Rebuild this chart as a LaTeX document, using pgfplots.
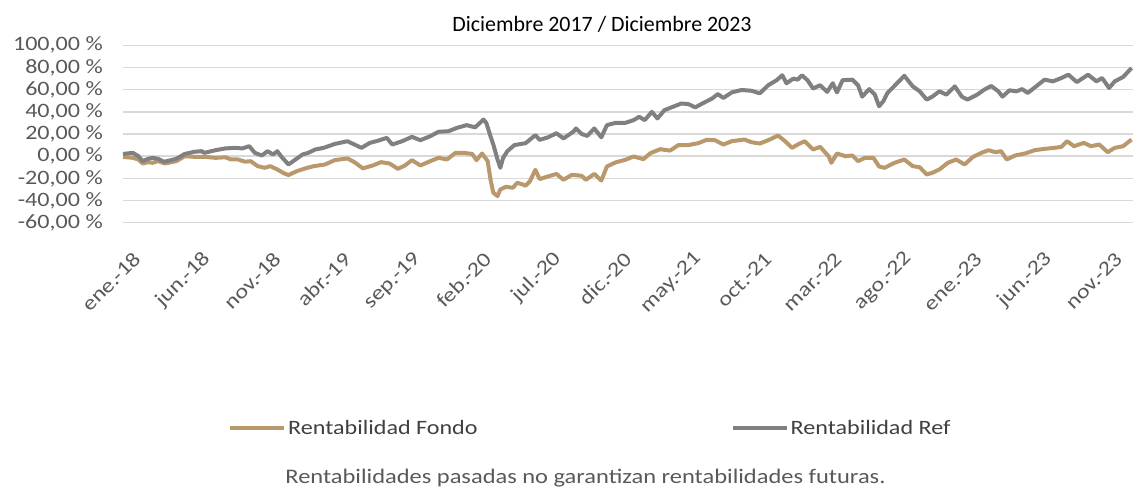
\documentclass[border=0pt]{standalone}
\usepackage{pgfplots}
\pgfplotsset{compat=1.18}
\usepackage{fontspec}
\setmainfont{Carlito}
\newfontfamily\wf[FakeStretch=1.18]{Carlito}
\definecolor{fondo}{RGB}{185,153,108}
\definecolor{refc}{RGB}{128,128,128}
\definecolor{gridc}{RGB}{217,217,217}
\definecolor{txt}{RGB}{89,89,89}
\definecolor{legtxt}{RGB}{64,64,64}
\begin{document}
\begin{tikzpicture}[x=1bp,y=1bp]
\useasboundingbox (-123,-265.3) rectangle (1010,222.7);
\begin{axis}[
  at={(0,0)}, anchor=south west,
  scale only axis, width=1010bp, height=177.4bp,
  xmin=0, xmax=72, ymin=-60, ymax=100,
  axis line style={draw=none},
  major tick length=0pt,
  ymajorgrids, grid style={gridc, line width=1.5bp},
  ytick={-60,-40,...,100},
  yticklabels={-60{,}00 \%,-40{,}00 \%,-20{,}00 \%,0{,}00 \%,20{,}00 \%,40{,}00 \%,60{,}00 \%,80{,}00 \%,100{,}00 \%},
  yticklabel style={anchor=east, inner sep=0pt, xshift=-20bp, font=\wf\fontsize{20.5}{21}\selectfont, text=txt},
  xtick={0,5,...,70},
  xticklabels={ene.-18,jun.-18,nov.-18,abr.-19,sep.-19,feb.-20,jul.-20,dic.-20,may.-21,oct.-21,mar.-22,ago.-22,ene.-23,jun.-23,nov.-23},
  xticklabel style={xshift=14bp, yshift=-33bp, rotate=45, anchor=east, inner sep=0pt, font=\wf\fontsize{20.5}{21}\selectfont, text=txt},
  legend columns=2,
  legend style={at={(axis description cs:0.104,-1.157)}, anchor=west, draw=none, fill=none, inner sep=0pt,
    font=\wf\fontsize{20.5}{21}\selectfont, text=legtxt,
    /tikz/every even column/.append style={column sep=251bp}},
  legend image code/.code={\draw[#1, line width=4bp] (0bp,0bp) -- (54bp,0bp);},
  every axis plot/.append style={line width=4bp, line join=round},
  clip=false,
]
\addplot[fondo] coordinates {
(0,-0.6) (0.7,-1.5) (1.1,-3) (1.4,-6.6) (1.8,-5.4) (2.1,-6) (2.5,-4.5) (3.0,-6.6) (3.8,-4.5) (4.4,0)
(5.1,-0.6) (5.8,-0.6) (6.6,-1.5) (7.3,-1) (7.7,-3) (8.2,-3) (8.7,-5) (9.1,-4.5) (9.6,-9) (10.1,-10.5)
(10.5,-9) (11.0,-12) (11.5,-15.6) (11.8,-17) (12.4,-13.5) (13.0,-11) (13.6,-9) (14.4,-7.5) (15.1,-3.6) (16.0,-2)
(16.5,-5.4) (17.1,-11) (17.8,-8.4) (18.4,-5.4) (19.0,-6.6) (19.6,-11.4) (20.1,-8.4) (20.6,-3.6) (21.2,-8.4) (21.9,-4.5)
(22.5,-1.5) (23.1,-3) (23.7,3) (24.3,3) (24.9,2) (25.2,-3.6) (25.6,2.4) (26.0,-4.5) (26.2,-21) (26.4,-33)
(26.7,-36) (26.9,-30) (27.3,-27.6) (27.8,-28.5) (28.1,-24) (28.5,-25.5) (28.7,-26.7) (29.0,-22.8) (29.4,-12.3) (29.7,-20.7)
(30.3,-18.3) (30.9,-16) (31.4,-21.3) (32.0,-16.8) (32.7,-17.7) (33.0,-21.3) (33.6,-16) (34.1,-22) (34.5,-9.3) (35.1,-5.7)
(35.8,-3.3) (36.4,-0.3) (37.1,-2.7) (37.6,2.7) (38.3,6.3) (39.0,5) (39.6,10) (40.3,10) (41.0,11.7) (41.6,14.7)
(42.2,14.4) (42.8,10.5) (43.4,13.5) (44.3,15) (44.8,12.6) (45.4,11.4) (46.0,14.4) (46.7,18.6) (47.2,13.5) (47.7,7.5)
(48.1,10.5) (48.6,13.5) (49.2,6) (49.7,8.4) (50.3,0) (50.5,-6) (50.9,2.4) (51.5,0) (52.0,0.6) (52.4,-4.5)
(52.9,-1.5) (53.5,-1.5) (53.9,-9.3) (54.3,-10.5) (55.0,-6) (55.7,-3) (56.3,-9) (56.8,-10) (57.3,-16.5) (57.7,-15)
(58.2,-12) (58.8,-6) (59.4,-3) (60.0,-7.5) (60.6,-0.6) (61.2,3) (61.7,5.4) (62.2,3.6) (62.6,4.5) (63.0,-3)
(63.6,0.6) (64.3,2.4) (65.0,5.4) (65.7,6.6) (66.4,7.5) (66.9,8.4) (67.3,13.5) (67.8,9) (68.5,12) (69.0,9)
(69.6,10.5) (70.2,3.6) (70.7,7.5) (71.3,9) (71.9,15)
};
\addlegendentry{Rentabilidad Fondo}
\addplot[refc] coordinates {
(0,2) (0.7,3) (1.1,0) (1.4,-4.5) (1.8,-2.4) (2.1,-1.5) (2.5,-2.4) (2.9,-5) (3.3,-4) (3.8,-2.4)
(4.4,2) (5.1,4) (5.6,4.5) (5.8,3) (6.6,5.4) (7.3,7) (8.0,7.5) (8.5,7) (9.0,9) (9.4,3)
(9.9,0.6) (10.3,4.5) (10.7,1.5) (11.0,4.5) (11.3,-0.6) (11.8,-7.5) (12.3,-3) (12.8,1.5) (13.2,3) (13.7,6)
(14.3,7.5) (15.1,11) (16.0,13.5) (16.5,10.5) (17.0,7.5) (17.6,12) (18.2,14) (18.8,16.5) (19.2,10.5) (19.9,13.5)
(20.6,17.4) (21.2,14.4) (21.9,18) (22.5,22) (23.2,22.5) (23.8,25.5) (24.5,28) (25.1,26) (25.7,33) (25.9,30)
(26.2,18) (26.4,10.5) (26.7,-3) (26.9,-10.5) (27.1,-1.5) (27.4,4.5) (27.9,10) (28.7,11.7) (29.4,19) (29.7,14.7)
(30.3,17) (30.9,20.7) (31.4,16) (32.1,22) (32.3,25) (32.7,20) (33.1,18.3) (33.6,25) (34.1,17) (34.5,28)
(35.1,30) (35.8,30) (36.4,32.5) (36.8,35.5) (37.2,32.5) (37.7,40) (38.1,34) (38.6,41.5) (39.2,44.5) (39.8,47.5)
(40.3,47) (40.8,44) (41.3,47.5) (42.0,52) (42.4,56) (42.8,52.5) (43.4,57.5) (44.1,59.7) (44.8,59) (45.4,56.7)
(46.0,64) (46.6,68.5) (47.0,73) (47.3,65.8) (47.8,70) (48.1,69) (48.4,73) (48.8,68.5) (49.2,61) (49.7,64)
(50.2,58) (50.6,65.8) (50.9,57.5) (51.3,68.5) (52.0,69) (52.4,64) (52.7,53.7) (53.2,60.5) (53.6,55.5) (53.9,45)
(54.2,49.5) (54.5,57) (55.2,66) (55.7,72.5) (56.3,63) (56.8,58.5) (57.3,51) (57.7,53.7) (58.2,58.5) (58.7,55.5)
(59.3,63) (59.8,53.7) (60.2,51) (60.9,55.5) (61.4,60) (61.9,63.3) (62.4,58.5) (62.7,53.7) (63.2,59.4) (63.7,58.5)
(64.1,60.5) (64.5,57) (65.1,63) (65.7,69) (66.3,67.5) (66.9,70.5) (67.4,73.5) (68.0,66.8) (68.8,73.5) (69.4,67.5)
(69.8,70.5) (70.3,61.5) (70.7,67.5) (71.3,71.4) (71.9,79.5)
};
\addlegendentry{Rentabilidad Ref}
\end{axis}
\node[anchor=base, font=\fontsize{22}{23}\selectfont, text=black, inner sep=0pt] at (479,191) {Diciembre 2017 / Diciembre 2023};
\node[anchor=base, font=\wf\fontsize{20.8}{22}\selectfont, text=txt, inner sep=0pt] at (462.5,-261.3) {Rentabilidades pasadas no garantizan rentabilidades futuras.};
\end{tikzpicture}
\end{document}
